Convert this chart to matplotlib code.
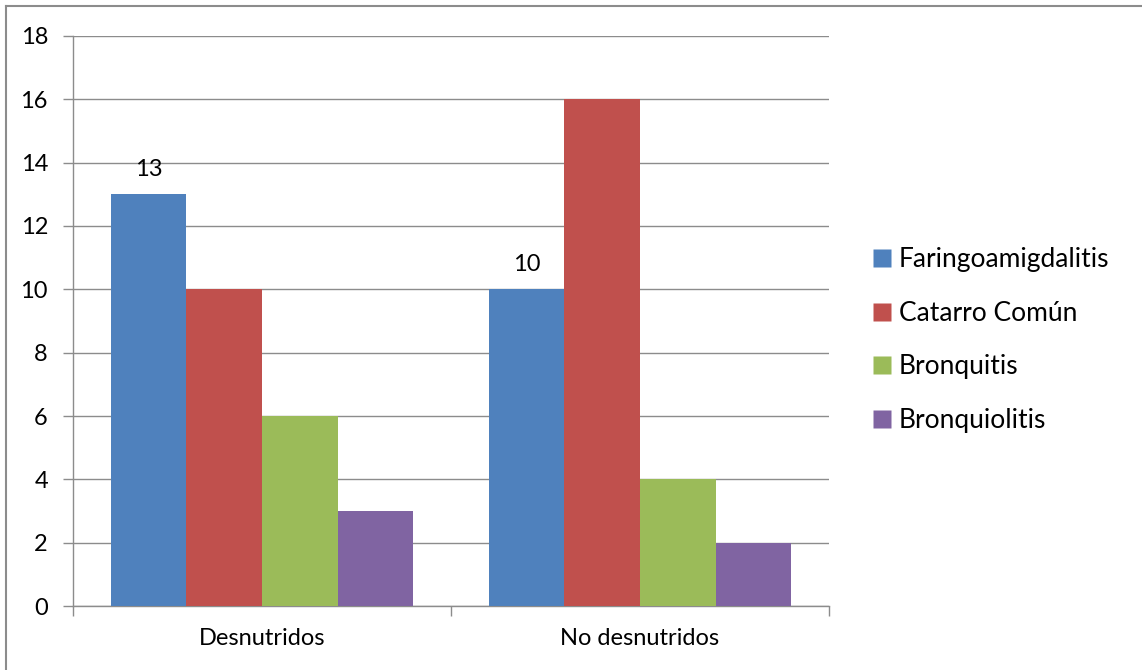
import matplotlib.pyplot as plt
import numpy as np
from matplotlib.lines import Line2D

plt.rcParams['font.family'] = ['Lato', 'DejaVu Sans']

categorias = ['Desnutridos', 'No desnutridos']
series = ['Faringoamigdalitis', 'Catarro Común', 'Bronquitis', 'Bronquiolitis']
valores = [
    [13, 10],  # Faringoamigdalitis
    [10, 16],  # Catarro Común
    [6, 4],    # Bronquitis
    [3, 2],    # Bronquiolitis
]
colores = ['#4F81BD', '#C0504D', '#9BBB59', '#8064A2']
etiquetas_serie = [0]  # solo la primera serie lleva etiquetas de datos

fig = plt.figure(figsize=(11.42, 6.7), dpi=100, facecolor='white')
ax = fig.add_axes([0.0639, 0.0955, 0.662, 0.8508])

x = np.arange(len(categorias))
ancho = 0.2
for i, (nombre, vals) in enumerate(zip(series, valores)):
    pos = x - 0.3 + i * ancho
    ax.bar(pos, vals, width=ancho, color=colores[i], label=nombre, zorder=3, edgecolor='none')
    if i in etiquetas_serie:
        for p, v in zip(pos, vals):
            ax.text(p, v + 0.45, str(v), ha='center', va='bottom', fontsize=17, color='black')

ax.set_xlim(-0.5, 1.5)
ax.set_ylim(0, 18)
ax.set_yticks(range(0, 19, 2))
ax.grid(axis='y', color='#8c8c8c', lw=1, zorder=0)
ax.set_axisbelow(True)

# ejes estilo Excel
for s in ['top', 'right']:
    ax.spines[s].set_visible(False)
for s in ['left', 'bottom']:
    ax.spines[s].set_color('#8c8c8c')
    ax.spines[s].set_linewidth(1)

ax.set_xticks([-0.5, 0.5, 1.5])
ax.set_xticklabels([])
ax.set_xticks([0, 1], minor=True)
ax.set_xticklabels(categorias, minor=True, fontsize=17)
ax.tick_params(axis='x', which='major', length=7, color='#8c8c8c', width=1)
ax.tick_params(axis='x', which='minor', length=0, pad=16)
ax.tick_params(axis='y', length=7, color='#8c8c8c', width=1, labelsize=17, pad=11)

handles = [Line2D([0], [0], marker='s', ls='none', markersize=13, markerfacecolor=c,
                  markeredgecolor='none') for c in colores]
fig.legend(handles, series, loc='center left', bbox_to_anchor=(0.741, 0.4925), frameon=False,
           fontsize=19, handletextpad=0.2, labelspacing=1.08, handlelength=0.9)

# borde del gráfico (solo arriba e izquierda visibles)
fig.add_artist(Line2D([6 / 1142, 1], [1 - 6 / 670, 1 - 6 / 670], color='#8c8c8c', lw=1.5))
fig.add_artist(Line2D([6 / 1142, 6 / 1142], [0, 1 - 6 / 670], color='#8c8c8c', lw=1.5))

fig.savefig('out.png', dpi=100, facecolor='white')
